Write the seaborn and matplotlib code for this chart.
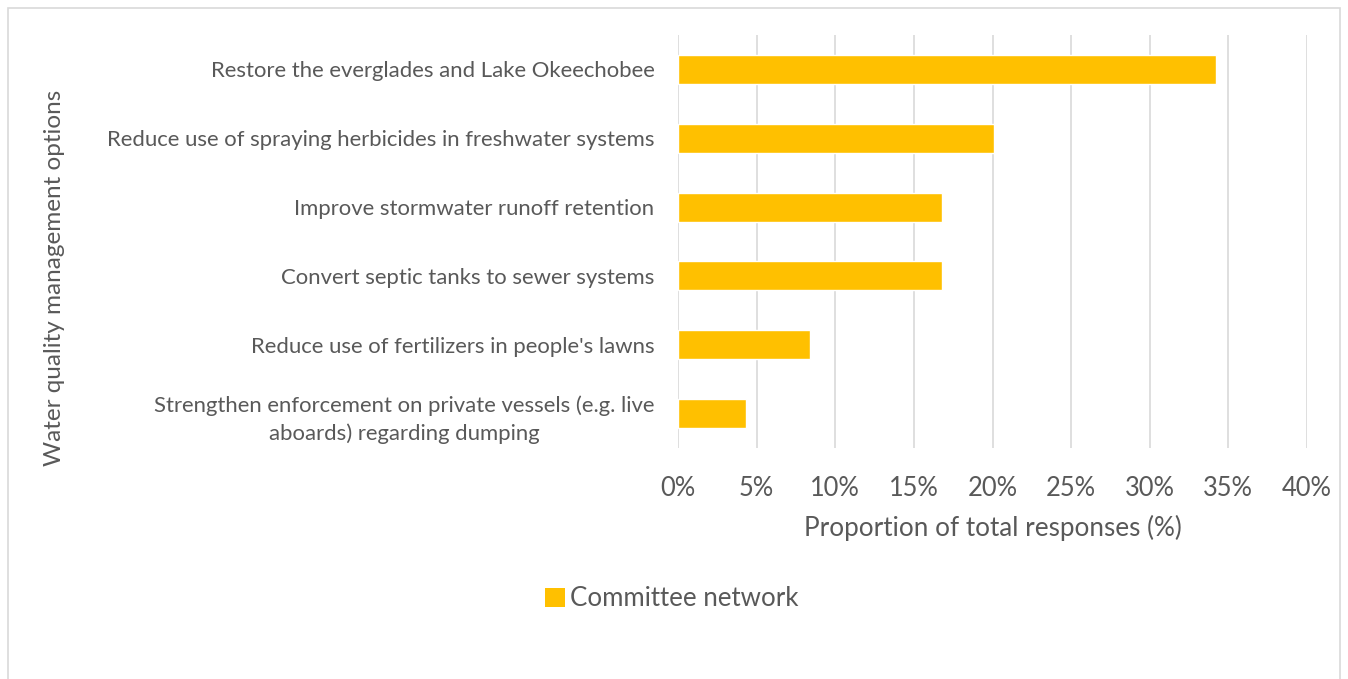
import matplotlib
matplotlib.use("Agg")
import matplotlib.pyplot as plt
import seaborn as sns
import pandas as pd
from matplotlib.patches import Rectangle
from matplotlib.ticker import FuncFormatter, MultipleLocator

categories = [
    "Restore the everglades and Lake Okeechobee",
    "Reduce use of spraying herbicides in freshwater systems",
    "Improve stormwater runoff retention",
    "Convert septic tanks to sewer systems",
    "Reduce use of fertilizers in people's lawns",
    "Strengthen enforcement on private vessels (e.g. live\naboards) regarding dumping",
]
values = [34.2, 20.1, 16.8, 16.8, 8.4, 4.3]
series_name = "Committee network"

sns.set_theme(style="white")
plt.rcParams["font.family"] = ["Lato", "DejaVu Sans"]

text_color = "#595959"
bar_color = "#FFC000"
grid_color = "#D9D9D9"

df = pd.DataFrame({"option": categories, "share": values, "series": series_name})

fig = plt.figure(figsize=(13.48, 6.79), dpi=100)
ax = fig.add_axes([678 / 1348, 1 - 448 / 679, (1307 - 678) / 1348, (448 - 35) / 679])

sns.barplot(data=df, x="share", y="option", hue="series", orient="h",
            palette=[bar_color], saturation=1, width=0.42, ax=ax, legend=False)

ax.set_xlim(0, 40)
ax.xaxis.set_major_locator(MultipleLocator(5))
ax.xaxis.set_major_formatter(FuncFormatter(lambda v, p: f"{v:.0f}%"))
ax.grid(axis="x", color=grid_color, linewidth=1.2)
ax.set_axisbelow(True)
for s in ax.spines.values():
    s.set_visible(False)

ax.tick_params(axis="x", colors=text_color, labelsize=18.4, length=0, pad=20)
ax.tick_params(axis="y", colors=text_color, labelsize=15.9, length=0, pad=17)
for lbl in ax.get_yticklabels():
    lbl.set_multialignment("center")
    lbl.set_linespacing(1.45)

ax.set_xlabel("Proportion of total responses (%)", color=text_color, fontsize=18.8, labelpad=10)
ax.set_ylabel("")
fig.text(55 / 1348, 1 - 278 / 679, "Water quality management options", rotation=90,
         ha="center", va="center", color=text_color, fontsize=17.5)

# legend entry below the plot
handle = Rectangle((0, 0), 1, 1, facecolor=bar_color, edgecolor="none")
fig.legend([handle], [series_name], loc="center", bbox_to_anchor=(672 / 1348, 1 - 599 / 679),
           frameon=False, fontsize=18.6, handlelength=0.75, handleheight=0.75,
           handletextpad=0.2, labelcolor=text_color)

# chart border
fig.patches.append(Rectangle((8 / 1348, -0.01), (1340 - 8) / 1348, 1 - 8 / 679 + 0.01,
                             transform=fig.transFigure, fill=False,
                             edgecolor=grid_color, linewidth=1.2))

fig.savefig("out.png", dpi=100)
